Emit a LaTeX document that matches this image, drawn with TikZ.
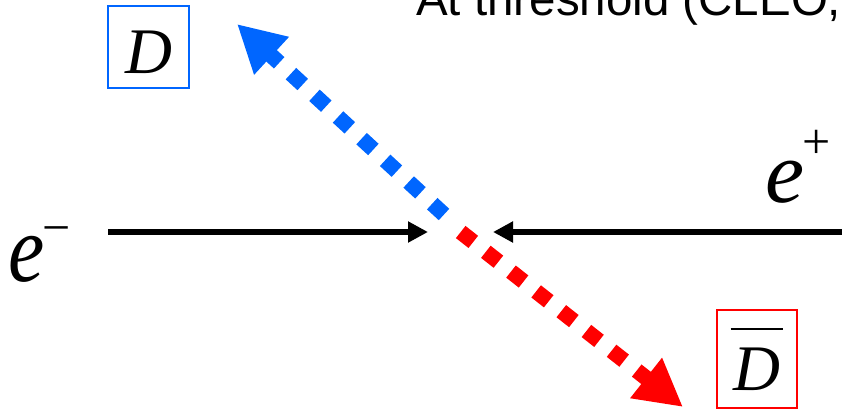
\documentclass[tikz,border=0pt]{standalone}
\usepackage{fontspec}
\setmainfont{Liberation Serif}
\newfontfamily\arialfont{Liberation Sans}
\usetikzlibrary{arrows.meta}
\definecolor{dblue}{RGB}{0,102,255}
\definecolor{dred}{RGB}{255,0,0}
\begin{document}
\begin{tikzpicture}[x=1pt,y=-1pt,
  beam/.style={line width=6.5pt,-{Triangle[length=20pt,width=20pt]}},
  meson/.style={line width=15.5pt,dash pattern=on 16pt off 16pt,line cap=butt,-{Triangle[length=47pt,width=48pt]}},
  mbox/.style={line width=2pt,inner sep=0pt,text depth=0pt,font=\fontsize{65}{65}\selectfont\itshape},
  lbl/.style={anchor=base west,inner sep=0pt,font=\fontsize{96}{96}\selectfont}]
\clip (0,0) rectangle (842,410);
\useasboundingbox (0,0) rectangle (842,410);
\node[anchor=base west,inner sep=0pt,font=\arialfont\fontsize{47.5}{50}\selectfont] (title) at (416,15.5) {At threshold (CLEO,};
\node[mbox,draw=dblue,minimum width=81pt,minimum height=82pt,text height=52pt] (D) at (148.5,47) {D};
\node[mbox,draw=dred,minimum width=80pt,minimum height=98pt,text height=62pt] (Dbar) at (757,359) {\makebox[0pt][l]{\hspace*{-3pt}\raisebox{60pt}{\rule{52pt}{2.5pt}}}D};
\node[lbl] (em) at (8,281) {\scalebox{0.85}[1]{\textit{e}}\kern-2pt\raisebox{37pt}{\fontsize{50}{50}\selectfont −}};
\node[lbl,font=\fontsize{88}{88}\selectfont] (ep) at (765,202) {\textit{e}\kern-2pt\raisebox{44pt}{\fontsize{50}{50}\selectfont +}};
\coordinate (emstart) at (108,232);
\coordinate (emend) at (428,232);
\coordinate (epstart) at (842,232);
\coordinate (epend) at (493,232);
\coordinate (bstart) at (444,214.5);
\coordinate (btip) at (237,24);
\coordinate (rstart) at (460.7,232);
\coordinate (rtip) at (683,407);
\draw[beam] (emstart) -- (emend);
\draw[beam] (epstart) -- (epend);
\draw[meson,dblue] (bstart) -- (btip);
\draw[meson,dred] (rstart) -- (rtip);
\end{tikzpicture}
\end{document}
